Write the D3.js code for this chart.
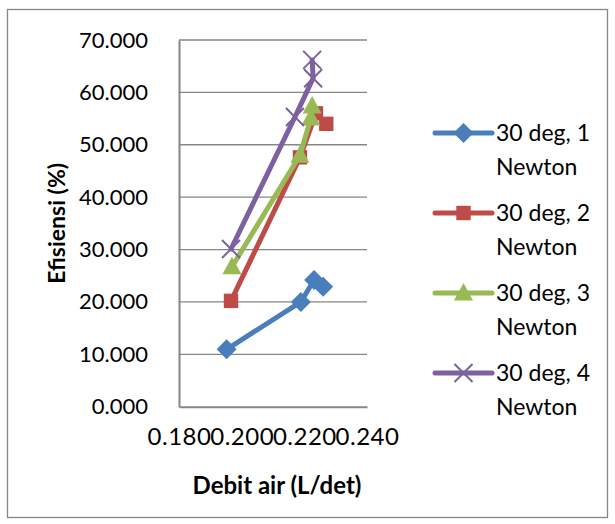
<!DOCTYPE html>
<html>
<head>
<meta charset="utf-8">
<script src="https://cdn.jsdelivr.net/npm/d3@7/dist/d3.min.js"></script>
<style>
  html, body { margin: 0; padding: 0; background: #fff; }
  svg { display: block; }
  text { font-family: Lato, "Open Sans", sans-serif; fill: #000; }
</style>
</head>
<body>
<script>
// Efficiency vs. water flow rate, one series per load (30 deg inclination)
const seriesNames = ["30 deg, 1 Newton", "30 deg, 2 Newton", "30 deg, 3 Newton", "30 deg, 4 Newton"];
const seriesColors = ["#4A7EBB", "#BE4B48", "#98B954", "#7D60A0"];
const seriesMarkers = ["diamond", "square", "triangle", "cross"];

const debit1 = [0.1952, 0.2189, 0.2231, 0.2260];
const efisiensi1 = [10.95, 20.0, 24.2, 22.9];
const debit2 = [0.1966, 0.2186, 0.2237, 0.2270];
const efisiensi2 = [20.2, 47.6, 56.0, 54.0];
const debit3 = [0.1969, 0.2186, 0.2221, 0.2225];
const efisiensi3 = [26.7, 48.0, 55.1, 57.4];
const debit4 = [0.1966, 0.2170, 0.2228, 0.2225];
const efisiensi4 = [30.1, 55.3, 62.7, 66.2];

const xTicks = [0.18, 0.20, 0.22, 0.24];
const yTicks = [0, 10, 20, 30, 40, 50, 60, 70];

const xTitle = "Debit air (L/det)";
const yTitle = "Efisiensi (%)";

const W = 615, H = 524;
const plot = { left: 179, right: 367, top: 40, bottom: 406.7 };

const series = seriesNames.map((name, i) => ({
  name,
  color: seriesColors[i],
  marker: seriesMarkers[i],
  points: [[debit1, efisiensi1], [debit2, efisiensi2], [debit3, efisiensi3], [debit4, efisiensi4]][i]
    .reduce((xs, ys) => xs.map((x, k) => ({ x, y: ys[k] })))
}));

const svg = d3.select("body").append("svg").attr("width", W).attr("height", H);

// chart frame
svg.append("rect")
  .attr("x", 7.5).attr("y", 9.5).attr("width", 600).attr("height", 508)
  .attr("fill", "#fff").attr("stroke", "#868686").attr("stroke-width", 1.3);

const x = d3.scaleLinear().domain([0.18, 0.24]).range([plot.left, plot.right]);
const y = d3.scaleLinear().domain([0, 70]).range([plot.bottom, plot.top]);

// horizontal gridlines
svg.append("g").selectAll("line").data(yTicks.filter(t => t > 0)).join("line")
  .attr("x1", plot.left).attr("x2", plot.right)
  .attr("y1", d => y(d)).attr("y2", d => y(d))
  .attr("stroke", "#868686").attr("stroke-width", 1.3);

// y axis
const yAxis = svg.append("g").attr("transform", `translate(${plot.left},0)`)
  .call(d3.axisLeft(y).tickValues(yTicks).tickFormat(d3.format(".3f")).tickSize(0).tickPadding(31));
yAxis.select(".domain").attr("stroke", "#868686").attr("stroke-width", 2);
yAxis.selectAll("text").style("font-size", "22px").style("font-family", "Lato").attr("fill", "#000");

// x axis
const xAxis = svg.append("g").attr("transform", `translate(0,${plot.bottom})`)
  .call(d3.axisBottom(x).tickValues(xTicks).tickFormat(d3.format(".3f")).tickSize(0).tickPadding(21));
xAxis.select(".domain").attr("stroke", "#868686").attr("stroke-width", 2);
xAxis.selectAll("text").style("font-size", "24px").style("font-family", "Lato")
  .style("letter-spacing", "0.5px").attr("fill", "#000");

// axis titles
svg.append("text")
  .attr("transform", `translate(65,${(plot.top + plot.bottom) / 2}) rotate(-90)`)
  .attr("text-anchor", "middle")
  .style("font-size", "23px").style("font-weight", "bold")
  .text(yTitle);

svg.append("text")
  .attr("x", 277).attr("y", 494)
  .attr("text-anchor", "middle")
  .style("font-size", "24px").style("font-weight", "bold")
  .text(xTitle);

// marker shapes
function drawMarker(g, type, color, size) {
  const s = size;
  if (type === "diamond") {
    g.append("path").attr("d", `M0,${-s}L${s},0L0,${s}L${-s},0Z`).attr("fill", color);
  } else if (type === "square") {
    g.append("rect").attr("x", -s * 0.72).attr("y", -s * 0.72).attr("width", s * 1.44).attr("height", s * 1.44).attr("fill", color);
  } else if (type === "triangle") {
    g.append("path").attr("d", `M0,${-s}L${s * 0.95},${s * 0.75}L${-s * 0.95},${s * 0.75}Z`).attr("fill", color);
  } else if (type === "cross") {
    const c = s * 0.9;
    g.append("path").attr("d", `M${-c},${-c}L${c},${c}M${-c},${c}L${c},${-c}`)
      .attr("stroke", color).attr("stroke-width", 2).attr("fill", "none");
  }
}

const line = d3.line().x(d => x(d.x)).y(d => y(d.y));

const seriesG = svg.append("g").selectAll("g").data(series).join("g");
seriesG.append("path")
  .attr("d", d => line(d.points))
  .attr("fill", "none")
  .attr("stroke", d => d.color)
  .attr("stroke-width", 5)
  .attr("stroke-linejoin", "round")
  .attr("stroke-linecap", "round");
seriesG.each(function (d) {
  const g = d3.select(this);
  d.points.forEach(p => {
    const m = g.append("g").attr("transform", `translate(${x(p.x)},${y(p.y)})`);
    drawMarker(m, d.marker, d.color, 10);
  });
});

// legend
const legend = svg.append("g").selectAll("g").data(series).join("g")
  .attr("transform", (d, i) => `translate(435,${133 + i * 80})`);
legend.append("line")
  .attr("x1", 0).attr("x2", 57).attr("y1", 0).attr("y2", 0)
  .attr("stroke", d => d.color).attr("stroke-width", 5).attr("stroke-linecap", "round");
legend.each(function (d) {
  const m = d3.select(this).append("g").attr("transform", "translate(28.5,0)");
  drawMarker(m, d.marker, d.color, 10);
});
legend.append("text")
  .attr("x", 61).attr("y", 8)
  .style("font-size", "23px")
  .each(function (d) {
    const cut = d.name.lastIndexOf(" ");
    const t = d3.select(this);
    t.append("tspan").attr("x", 61).attr("dy", 0).text(d.name.slice(0, cut));
    t.append("tspan").attr("x", 61).attr("dy", 34).text(d.name.slice(cut + 1));
  });
</script>
</body>
</html>
